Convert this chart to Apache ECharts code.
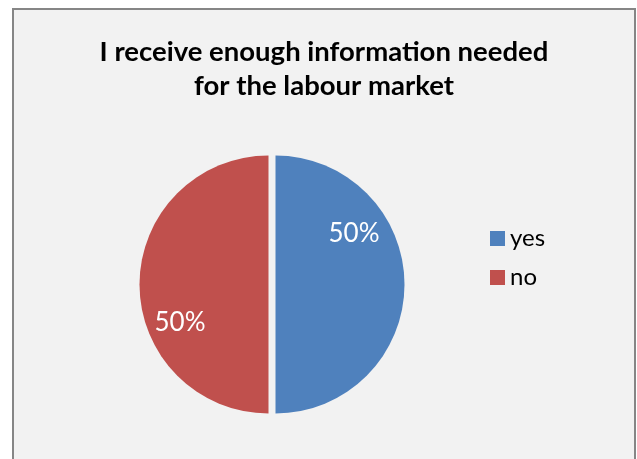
<!DOCTYPE html>
<html>
<head>
<meta charset="utf-8">
<script src="https://cdn.jsdelivr.net/npm/echarts@6/dist/echarts.min.js"></script>
<style>
html, body { margin: 0; padding: 0; background: #fff; }
#frame {
    position: absolute; left: 12px; top: 8px; width: 620px; height: 460px;
    border: 2px solid #868686; border-bottom: none; background: #f2f2f2;
}
#chart { width: 620px; height: 451px; }
</style>
</head>
<body>
<div id="frame"><div id="chart"></div></div>
<script>
// data
var titleLines = ['I receive enough information needed', 'for the labour market'];
var categories = ['yes', 'no'];
var values = [50, 50];
var colors = ['#4f81bd', '#c0504d'];
// label nudges (Excel places them off the mid angle)
var labelShift = [[11, -51], [-21, 38]];

var myChart = echarts.init(document.getElementById('chart'), null, {renderer: 'canvas'});
var fontName = 'Lato, "Liberation Sans", sans-serif';

var pieData = [];
for (var i = 0; i < categories.length; i++) {
    pieData.push({
        name: categories[i],
        value: values[i],
        selected: true,
        itemStyle: {color: colors[i]}
    });
}

var option = {
    backgroundColor: '#f2f2f2',
    animation: false,
    title: {
        text: titleLines.join('\n'),
        left: 'center',
        top: 20,
        textStyle: {
            fontFamily: fontName,
            fontWeight: 'bold',
            fontSize: 27.5,
            lineHeight: 34,
            color: '#000'
        }
    },
    legend: {
        orient: 'vertical',
        left: 471,
        top: 211,
        itemWidth: 15,
        itemHeight: 15,
        itemGap: 14,
        icon: 'rect',
        selectedMode: false,
        data: categories,
        textStyle: {
            fontFamily: fontName,
            fontSize: 24,
            lineHeight: 25,
            color: '#000'
        }
    },
    series: [{
        type: 'pie',
        center: [258, 274.5],
        radius: 129,
        startAngle: 90,
        clockwise: true,
        selectedMode: 'multiple',
        selectedOffset: 3.5,
        silent: true,
        emphasis: {disabled: true},
        label: {
            show: true,
            position: 'inside',
            formatter: '{d}%',
            color: '#fff',
            fontFamily: fontName,
            fontSize: 26
        },
        labelLine: {show: false},
        labelLayout: function (params) {
            var s = labelShift[params.dataIndex];
            return {dx: s[0], dy: s[1]};
        },
        data: pieData
    }]
};

myChart.setOption(option);
</script>
</body>
</html>
